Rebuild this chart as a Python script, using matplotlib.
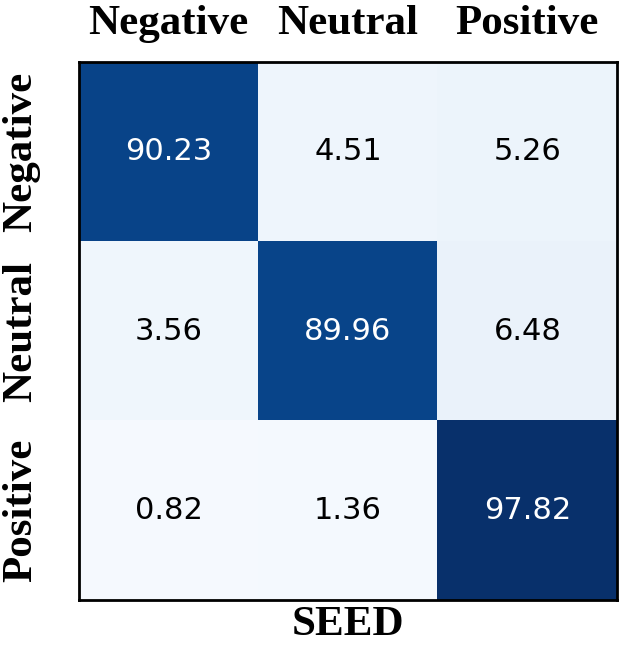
import matplotlib
matplotlib.use('Agg')
import matplotlib.pyplot as plt
import numpy as np

# Dados da matriz de confusão (%)
classes = ['Negative', 'Neutral', 'Positive']
linha_negative = [90.23, 4.51, 5.26]
linha_neutral = [3.56, 89.96, 6.48]
linha_positive = [0.82, 1.36, 97.82]
titulo_x = 'SEED'

matriz = np.array([linha_negative, linha_neutral, linha_positive])

fig = plt.figure(figsize=(6.24, 6.45), dpi=100)
ax = fig.add_axes([79 / 624, 45 / 645, 538 / 624, 538 / 645])

ax.imshow(matriz, cmap='Blues', vmin=0, vmax=matriz.max(), aspect='auto')

# Valores nas células
limite = matriz.max() / 2
for i in range(matriz.shape[0]):
    for j in range(matriz.shape[1]):
        cor = 'white' if matriz[i, j] > limite else 'black'
        ax.text(j, i, f'{matriz[i, j]:.2f}', ha='center', va='center',
                fontsize=22, color=cor, family='DejaVu Sans')

fonte = {'family': 'Liberation Serif', 'weight': 'bold', 'size': 31}
ax.set_xticks(range(len(classes)))
ax.set_yticks(range(len(classes)))
ax.set_xticklabels(classes, fontdict=fonte)
ax.set_yticklabels(classes, fontdict=fonte, rotation=90, va='center')
ax.xaxis.tick_top()
ax.tick_params(axis='x', length=0, pad=14)
ax.tick_params(axis='y', length=0, pad=28)
ax.set_xlabel(titulo_x, fontdict=fonte, labelpad=4)

for spine in ax.spines.values():
    spine.set_linewidth(2)
    spine.set_color('black')

plt.savefig('out.png', dpi=100)
